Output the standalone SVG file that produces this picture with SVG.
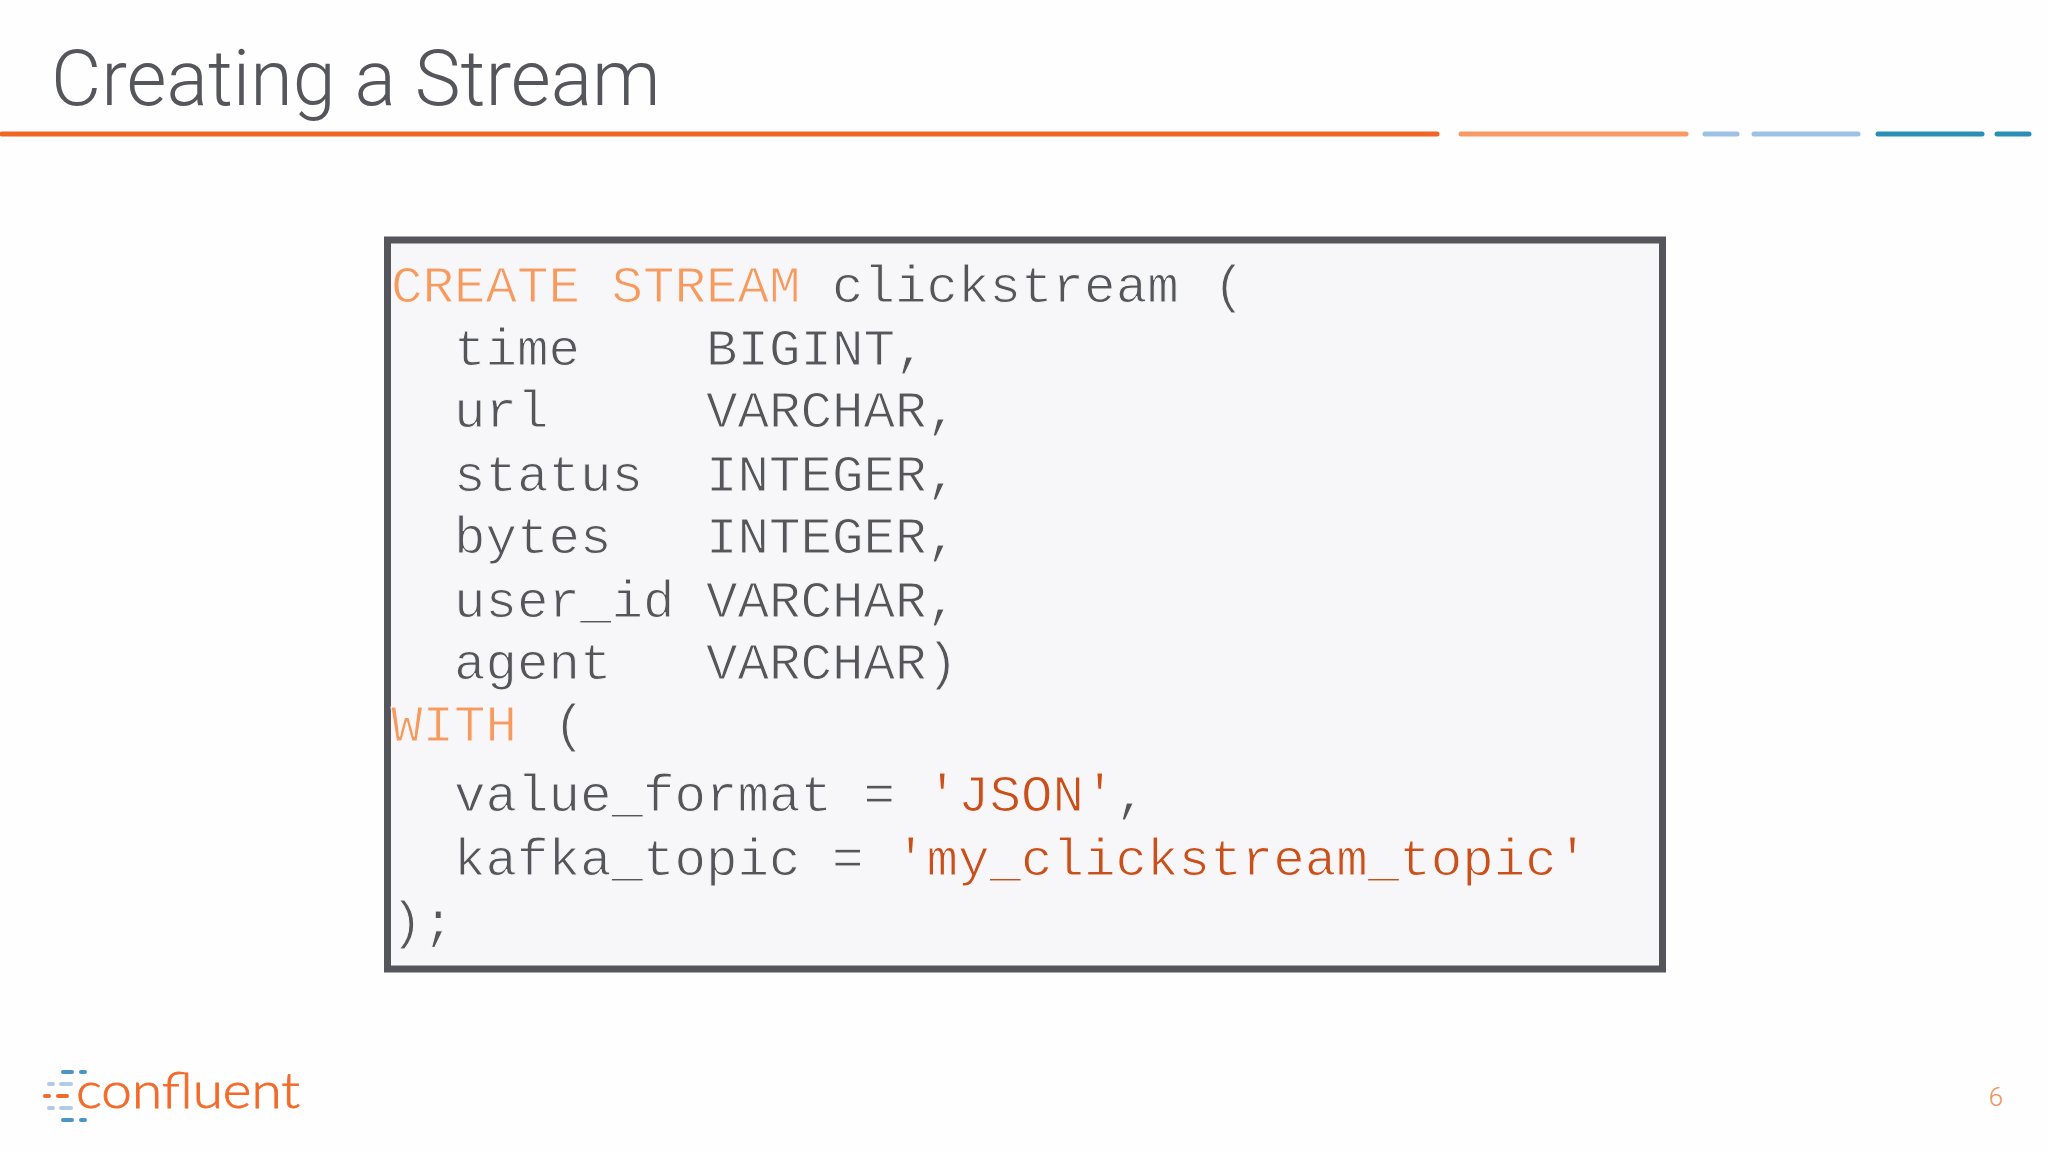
<svg xmlns="http://www.w3.org/2000/svg" width="2048" height="1152" viewBox="0 0 2048 1152">
<style>
.code{font-family:"Liberation Mono","Courier New",monospace;font-size:52.5px;fill:#55565b;white-space:pre;stroke:#f7f7f9;stroke-width:1}
.kw{fill:#f79a5e}.str{fill:#c9501a}
.bar{stroke-width:5;stroke-linecap:round;fill:none}
.d{stroke-width:4;stroke-linecap:round;fill:none}
</style>
<rect width="2048" height="1152" fill="#fefefe"/>
<text x="51" y="105" font-family="Roboto,sans-serif" font-weight="300" font-size="77.3" fill="#55565b">Creating a Stream</text>
<g id="rule">
<line class="bar" x1="2" y1="134" x2="1437" y2="134" stroke="#f26522"/>
<line class="bar" x1="1461" y1="134" x2="1686" y2="134" stroke="#f99a66"/>
<line class="bar" x1="1705" y1="134" x2="1737" y2="134" stroke="#9dc1e4"/>
<line class="bar" x1="1754" y1="134" x2="1858" y2="134" stroke="#9dc1e4"/>
<line class="bar" x1="1878" y1="134" x2="1982" y2="134" stroke="#2a8fb5"/>
<line class="bar" x1="1997" y1="134" x2="2029" y2="134" stroke="#2a8fb5"/>
</g>
<g id="code-box">
<rect x="387.5" y="240" width="1275" height="729" fill="#f7f7f9" stroke="#55565b" stroke-width="7"/>
<text class="code" xml:space="preserve" y="302"><tspan x="391" class="kw">CREATE STREAM</tspan><tspan> clickstream </tspan><tspan dx="3">(</tspan></text>
<text class="code" xml:space="preserve" x="454" y="365">time    BIGINT,</text>
<text class="code" xml:space="preserve" x="454" y="427">url     VARCHAR,</text>
<text class="code" xml:space="preserve" x="454" y="491">status  INTEGER,</text>
<text class="code" xml:space="preserve" x="454" y="553">bytes   INTEGER,</text>
<text class="code" xml:space="preserve" x="454" y="617">user_id VARCHAR,</text>
<text class="code" xml:space="preserve" x="454" y="679">agent   VARCHAR)</text>
<text class="code" xml:space="preserve" y="741"><tspan x="391" class="kw">WITH</tspan><tspan> </tspan><tspan dx="5">(</tspan></text>
<text class="code" xml:space="preserve" x="454" y="811">value_format = <tspan class="str">'JSON'</tspan>,</text>
<text class="code" xml:space="preserve" x="454" y="875">kafka_topic = <tspan class="str">'my_clickstream_topic'</tspan></text>
<text class="code" xml:space="preserve" x="391" y="938">);</text>
</g>
<g id="logo">
<line class="d" x1="63" y1="1072" x2="72" y2="1072" stroke="#4a94c6"/>
<line class="d" x1="81" y1="1072" x2="85" y2="1072" stroke="#4a94c6"/>
<line class="d" x1="49" y1="1084" x2="53" y2="1084" stroke="#b4cbe6"/>
<line class="d" x1="61" y1="1084" x2="71" y2="1084" stroke="#b4cbe6"/>
<line class="d" x1="45" y1="1096" x2="49" y2="1096" stroke="#f26b2a"/>
<line class="d" x1="58" y1="1096" x2="67" y2="1096" stroke="#f26b2a"/>
<line class="d" x1="49" y1="1108" x2="53" y2="1108" stroke="#b4cbe6"/>
<line class="d" x1="61" y1="1108" x2="71" y2="1108" stroke="#b4cbe6"/>
<line class="d" x1="63" y1="1120" x2="72" y2="1120" stroke="#4a94c6"/>
<line class="d" x1="81" y1="1120" x2="85" y2="1120" stroke="#4a94c6"/>
<text x="76" y="1108" font-family="Lato,sans-serif" font-weight="300" font-size="50" fill="#f26b2a" stroke="#f26b2a" stroke-width="0.8" textLength="224" lengthAdjust="spacingAndGlyphs">confluent</text>
</g>
<text x="1996" y="1106" text-anchor="middle" font-family="Roboto,sans-serif" font-weight="300" font-size="26" fill="#f4915c">6</text>
</svg>
